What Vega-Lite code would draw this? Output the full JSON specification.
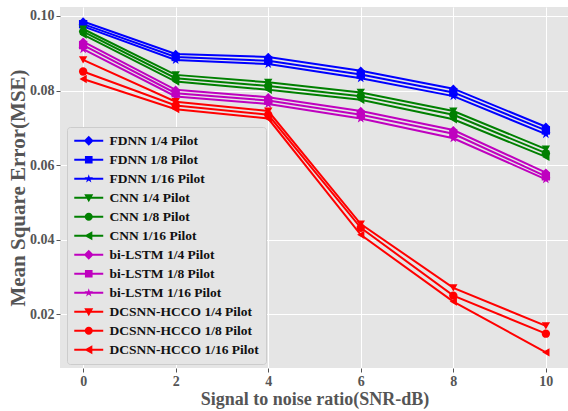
{
  "$schema": "https://vega.github.io/schema/vega-lite/v6.json",
  "width": 509,
  "height": 361,
  "autosize": {"type": "none"},
  "padding": {"left": 60, "top": 7, "right": 0, "bottom": 43},
  "background": "white",
  "data": {
    "values": [
      {"series": "FDNN 1/4 Pilot", "snr": 0, "mse": 0.0985},
      {"series": "FDNN 1/4 Pilot", "snr": 2, "mse": 0.0898},
      {"series": "FDNN 1/4 Pilot", "snr": 4, "mse": 0.0890},
      {"series": "FDNN 1/4 Pilot", "snr": 6, "mse": 0.0853},
      {"series": "FDNN 1/4 Pilot", "snr": 8, "mse": 0.0805},
      {"series": "FDNN 1/4 Pilot", "snr": 10, "mse": 0.0703},
      {"series": "FDNN 1/8 Pilot", "snr": 0, "mse": 0.0978},
      {"series": "FDNN 1/8 Pilot", "snr": 2, "mse": 0.0890},
      {"series": "FDNN 1/8 Pilot", "snr": 4, "mse": 0.0880},
      {"series": "FDNN 1/8 Pilot", "snr": 6, "mse": 0.0843},
      {"series": "FDNN 1/8 Pilot", "snr": 8, "mse": 0.0795},
      {"series": "FDNN 1/8 Pilot", "snr": 10, "mse": 0.0693},
      {"series": "FDNN 1/16 Pilot", "snr": 0, "mse": 0.0972},
      {"series": "FDNN 1/16 Pilot", "snr": 2, "mse": 0.0882},
      {"series": "FDNN 1/16 Pilot", "snr": 4, "mse": 0.0871},
      {"series": "FDNN 1/16 Pilot", "snr": 6, "mse": 0.0833},
      {"series": "FDNN 1/16 Pilot", "snr": 8, "mse": 0.0785},
      {"series": "FDNN 1/16 Pilot", "snr": 10, "mse": 0.0683},
      {"series": "CNN 1/4 Pilot", "snr": 0, "mse": 0.0965},
      {"series": "CNN 1/4 Pilot", "snr": 2, "mse": 0.0842},
      {"series": "CNN 1/4 Pilot", "snr": 4, "mse": 0.0822},
      {"series": "CNN 1/4 Pilot", "snr": 6, "mse": 0.0795},
      {"series": "CNN 1/4 Pilot", "snr": 8, "mse": 0.0745},
      {"series": "CNN 1/4 Pilot", "snr": 10, "mse": 0.0643},
      {"series": "CNN 1/8 Pilot", "snr": 0, "mse": 0.0958},
      {"series": "CNN 1/8 Pilot", "snr": 2, "mse": 0.0833},
      {"series": "CNN 1/8 Pilot", "snr": 4, "mse": 0.0812},
      {"series": "CNN 1/8 Pilot", "snr": 6, "mse": 0.0785},
      {"series": "CNN 1/8 Pilot", "snr": 8, "mse": 0.0735},
      {"series": "CNN 1/8 Pilot", "snr": 10, "mse": 0.0632},
      {"series": "CNN 1/16 Pilot", "snr": 0, "mse": 0.0950},
      {"series": "CNN 1/16 Pilot", "snr": 2, "mse": 0.0824},
      {"series": "CNN 1/16 Pilot", "snr": 4, "mse": 0.0802},
      {"series": "CNN 1/16 Pilot", "snr": 6, "mse": 0.0775},
      {"series": "CNN 1/16 Pilot", "snr": 8, "mse": 0.0723},
      {"series": "CNN 1/16 Pilot", "snr": 10, "mse": 0.0622},
      {"series": "bi-LSTM 1/4 Pilot", "snr": 0, "mse": 0.0931},
      {"series": "bi-LSTM 1/4 Pilot", "snr": 2, "mse": 0.0802},
      {"series": "bi-LSTM 1/4 Pilot", "snr": 4, "mse": 0.0782},
      {"series": "bi-LSTM 1/4 Pilot", "snr": 6, "mse": 0.0745},
      {"series": "bi-LSTM 1/4 Pilot", "snr": 8, "mse": 0.0694},
      {"series": "bi-LSTM 1/4 Pilot", "snr": 10, "mse": 0.0580},
      {"series": "bi-LSTM 1/8 Pilot", "snr": 0, "mse": 0.0922},
      {"series": "bi-LSTM 1/8 Pilot", "snr": 2, "mse": 0.0793},
      {"series": "bi-LSTM 1/8 Pilot", "snr": 4, "mse": 0.0773},
      {"series": "bi-LSTM 1/8 Pilot", "snr": 6, "mse": 0.0735},
      {"series": "bi-LSTM 1/8 Pilot", "snr": 8, "mse": 0.0684},
      {"series": "bi-LSTM 1/8 Pilot", "snr": 10, "mse": 0.0570},
      {"series": "bi-LSTM 1/16 Pilot", "snr": 0, "mse": 0.0911},
      {"series": "bi-LSTM 1/16 Pilot", "snr": 2, "mse": 0.0784},
      {"series": "bi-LSTM 1/16 Pilot", "snr": 4, "mse": 0.0764},
      {"series": "bi-LSTM 1/16 Pilot", "snr": 6, "mse": 0.0725},
      {"series": "bi-LSTM 1/16 Pilot", "snr": 8, "mse": 0.0672},
      {"series": "bi-LSTM 1/16 Pilot", "snr": 10, "mse": 0.0562},
      {"series": "DCSNN-HCCO 1/4 Pilot", "snr": 0, "mse": 0.0882},
      {"series": "DCSNN-HCCO 1/4 Pilot", "snr": 2, "mse": 0.0770},
      {"series": "DCSNN-HCCO 1/4 Pilot", "snr": 4, "mse": 0.0745},
      {"series": "DCSNN-HCCO 1/4 Pilot", "snr": 6, "mse": 0.0442},
      {"series": "DCSNN-HCCO 1/4 Pilot", "snr": 8, "mse": 0.0271},
      {"series": "DCSNN-HCCO 1/4 Pilot", "snr": 10, "mse": 0.0169},
      {"series": "DCSNN-HCCO 1/8 Pilot", "snr": 0, "mse": 0.0851},
      {"series": "DCSNN-HCCO 1/8 Pilot", "snr": 2, "mse": 0.0760},
      {"series": "DCSNN-HCCO 1/8 Pilot", "snr": 4, "mse": 0.0735},
      {"series": "DCSNN-HCCO 1/8 Pilot", "snr": 6, "mse": 0.0432},
      {"series": "DCSNN-HCCO 1/8 Pilot", "snr": 8, "mse": 0.0250},
      {"series": "DCSNN-HCCO 1/8 Pilot", "snr": 10, "mse": 0.0148},
      {"series": "DCSNN-HCCO 1/16 Pilot", "snr": 0, "mse": 0.0831},
      {"series": "DCSNN-HCCO 1/16 Pilot", "snr": 2, "mse": 0.0750},
      {"series": "DCSNN-HCCO 1/16 Pilot", "snr": 4, "mse": 0.0725},
      {"series": "DCSNN-HCCO 1/16 Pilot", "snr": 6, "mse": 0.0413},
      {"series": "DCSNN-HCCO 1/16 Pilot", "snr": 8, "mse": 0.0234},
      {"series": "DCSNN-HCCO 1/16 Pilot", "snr": 10, "mse": 0.0098}
    ]
  },
  "encoding": {
    "x": {
      "field": "snr", "type": "quantitative",
      "scale": {"domain": [-0.5, 10.5], "nice": false, "zero": false},
      "axis": {"values": [0, 2, 4, 6, 8, 10], "title": "Signal to noise ratio(SNR-dB)", "titleFontSize": 18, "titlePadding": 2}
    },
    "y": {
      "field": "mse", "type": "quantitative",
      "scale": {"domain": [0.0056, 0.1024], "nice": false, "zero": false},
      "axis": {"values": [0.02, 0.04, 0.06, 0.08, 0.1], "format": ".2f", "title": "Mean Square Error(MSE)", "titleFontSize": 21, "titlePadding": 1}
    }
  },
  "layer": [
    {
      "mark": {"type": "line", "strokeWidth": 2},
      "encoding": {
        "color": {
          "field": "series", "type": "nominal", "legend": null,
          "scale": {
            "domain": ["FDNN 1/4 Pilot", "FDNN 1/8 Pilot", "FDNN 1/16 Pilot", "CNN 1/4 Pilot", "CNN 1/8 Pilot", "CNN 1/16 Pilot", "bi-LSTM 1/4 Pilot", "bi-LSTM 1/8 Pilot", "bi-LSTM 1/16 Pilot", "DCSNN-HCCO 1/4 Pilot", "DCSNN-HCCO 1/8 Pilot", "DCSNN-HCCO 1/16 Pilot"],
            "range": ["#0000ff", "#0000ff", "#0000ff", "#008000", "#008000", "#008000", "#bf00bf", "#bf00bf", "#bf00bf", "#ff0000", "#ff0000", "#ff0000"]
          }
        }
      }
    },
    {
      "mark": {"type": "point", "filled": true, "opacity": 1, "size": 70, "strokeWidth": 0},
      "encoding": {
        "color": {"field": "series", "type": "nominal", "legend": null},
        "shape": {
          "field": "series", "type": "nominal", "legend": null,
          "scale": {
            "domain": ["FDNN 1/4 Pilot", "FDNN 1/8 Pilot", "FDNN 1/16 Pilot", "CNN 1/4 Pilot", "CNN 1/8 Pilot", "CNN 1/16 Pilot", "bi-LSTM 1/4 Pilot", "bi-LSTM 1/8 Pilot", "bi-LSTM 1/16 Pilot", "DCSNN-HCCO 1/4 Pilot", "DCSNN-HCCO 1/8 Pilot", "DCSNN-HCCO 1/16 Pilot"],
            "range": [
              "diamond", "square",
              "M0,-1.2L0.27,-0.37L1.14,-0.37L0.44,0.14L0.71,0.97L0,0.46L-0.71,0.97L-0.44,0.14L-1.14,-0.37L-0.27,-0.37Z",
              "triangle-down", "circle", "triangle-left",
              "diamond", "square",
              "M0,-1.2L0.27,-0.37L1.14,-0.37L0.44,0.14L0.71,0.97L0,0.46L-0.71,0.97L-0.44,0.14L-1.14,-0.37L-0.27,-0.37Z",
              "triangle-down", "circle", "triangle-left"
            ]
          }
        }
      }
    },
    {
      "mark": {"type": "point", "filled": true, "opacity": 0, "size": 81, "strokeWidth": 0},
      "encoding": {
        "fill": {
          "field": "series", "type": "nominal",
          "scale": {
            "domain": ["FDNN 1/4 Pilot", "FDNN 1/8 Pilot", "FDNN 1/16 Pilot", "CNN 1/4 Pilot", "CNN 1/8 Pilot", "CNN 1/16 Pilot", "bi-LSTM 1/4 Pilot", "bi-LSTM 1/8 Pilot", "bi-LSTM 1/16 Pilot", "DCSNN-HCCO 1/4 Pilot", "DCSNN-HCCO 1/8 Pilot", "DCSNN-HCCO 1/16 Pilot"],
            "range": ["#0000ff", "#0000ff", "#0000ff", "#008000", "#008000", "#008000", "#bf00bf", "#bf00bf", "#bf00bf", "#ff0000", "#ff0000", "#ff0000"]
          },
          "legend": {
            "title": null,
            "orient": "none",
            "legendX": 7,
            "legendY": 120,
            "padding": 7,
            "rowPadding": 4,
            "symbolSize": 81,
            "symbolOffset": 8,
            "labelOffset": 14,
            "symbolStrokeWidth": 0,
            "symbolOpacity": 1,
            "labelFont": "Liberation Serif",
            "labelFontWeight": "bold",
            "labelFontSize": 13.5,
            "labelColor": "#111111",
            "labelLimit": 400,
            "fillColor": "#e5e5e5",
            "strokeColor": "#cccccc",
            "cornerRadius": 3
          }
        },
        "shape": {
          "field": "series", "type": "nominal",
          "scale": {
            "domain": ["FDNN 1/4 Pilot", "FDNN 1/8 Pilot", "FDNN 1/16 Pilot", "CNN 1/4 Pilot", "CNN 1/8 Pilot", "CNN 1/16 Pilot", "bi-LSTM 1/4 Pilot", "bi-LSTM 1/8 Pilot", "bi-LSTM 1/16 Pilot", "DCSNN-HCCO 1/4 Pilot", "DCSNN-HCCO 1/8 Pilot", "DCSNN-HCCO 1/16 Pilot"],
            "range": [
              "M-3.22,-0.22H3.22V0.22H-3.22Z M0,-1.1L1.1,0L0,1.1L-1.1,0Z",
              "M-3.22,-0.22H3.22V0.22H-3.22Z M-0.85,-0.85H0.85V0.85H-0.85Z",
              "M-3.22,-0.22H3.22V0.22H-3.22Z M0,-1L0.225,-0.309L0.951,-0.309L0.363,0.118L0.588,0.809L0,0.382L-0.588,0.809L-0.363,0.118L-0.951,-0.309L-0.225,-0.309Z",
              "M-3.22,-0.22H3.22V0.22H-3.22Z M-1,-0.8L1,-0.8L0,1Z",
              "M-3.22,-0.22H3.22V0.22H-3.22Z M0.9,0A0.9,0.9 0 1,1 -0.9,0A0.9,0.9 0 1,1 0.9,0Z",
              "M-3.22,-0.22H3.22V0.22H-3.22Z M-1,0L0.8,-1L0.8,1Z",
              "M-3.22,-0.22H3.22V0.22H-3.22Z M0,-1.1L1.1,0L0,1.1L-1.1,0Z",
              "M-3.22,-0.22H3.22V0.22H-3.22Z M-0.85,-0.85H0.85V0.85H-0.85Z",
              "M-3.22,-0.22H3.22V0.22H-3.22Z M0,-1L0.225,-0.309L0.951,-0.309L0.363,0.118L0.588,0.809L0,0.382L-0.588,0.809L-0.363,0.118L-0.951,-0.309L-0.225,-0.309Z",
              "M-3.22,-0.22H3.22V0.22H-3.22Z M-1,-0.8L1,-0.8L0,1Z",
              "M-3.22,-0.22H3.22V0.22H-3.22Z M0.9,0A0.9,0.9 0 1,1 -0.9,0A0.9,0.9 0 1,1 0.9,0Z",
              "M-3.22,-0.22H3.22V0.22H-3.22Z M-1,0L0.8,-1L0.8,1Z"
            ]
          },
          "legend": {
            "title": null,
            "orient": "none",
            "legendX": 7,
            "legendY": 120,
            "padding": 7,
            "rowPadding": 4,
            "symbolSize": 81,
            "symbolOffset": 8,
            "labelOffset": 14,
            "symbolStrokeWidth": 0,
            "symbolOpacity": 1,
            "labelFont": "Liberation Serif",
            "labelFontWeight": "bold",
            "labelFontSize": 13.5,
            "labelColor": "#111111",
            "labelLimit": 400,
            "fillColor": "#e5e5e5",
            "strokeColor": "#cccccc",
            "cornerRadius": 3
          }
        }
      }
    }
  ],
  "resolve": {"scale": {"shape": "independent", "fill": "independent"}},
  "config": {
    "view": {"fill": "#e5e5e5", "stroke": null},
    "axis": {
      "grid": true,
      "gridColor": "#ffffff",
      "gridWidth": 1,
      "domain": false,
      "tickColor": "#555555",
      "tickSize": 4,
      "tickWidth": 1,
      "labelPadding": 2,
      "labelFont": "Liberation Serif",
      "labelFontWeight": "bold",
      "labelFontSize": 14,
      "labelColor": "#555555",
      "titleFont": "Liberation Serif",
      "titleFontWeight": "bold",
      "titleColor": "#555555"
    }
  }
}
